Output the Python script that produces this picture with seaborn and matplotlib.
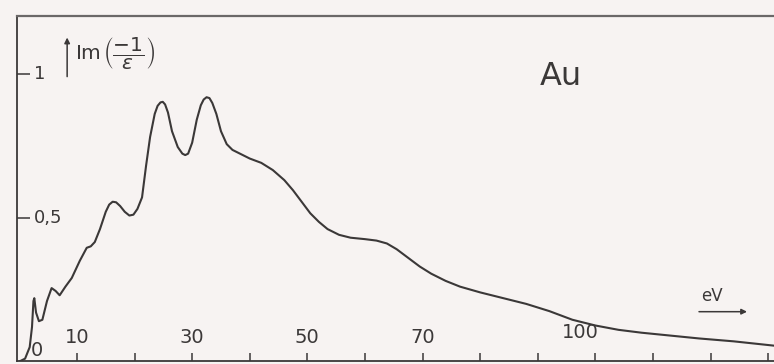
import matplotlib
matplotlib.use("Agg")
import matplotlib.pyplot as plt
import seaborn as sns
import pandas as pd

# Energy loss function of gold, Im(-1/eps) versus energy loss in eV
energy_ev = [0.0, 1.0, 1.8, 2.2, 2.45, 2.6, 2.9, 3.4, 4.0, 4.8, 5.6, 6.3, 7.0,
             8.0, 9.1, 10.5, 11.7, 12.4, 13.1, 14.0, 15.0, 15.6, 16.2, 16.8,
             17.5, 18.3, 19.1, 19.8, 20.5, 21.3, 22.0, 22.7, 23.5, 24.0, 24.5,
             24.9, 25.3, 25.8, 26.5, 27.5, 28.3, 28.8, 29.3, 30.0, 30.8, 31.5,
             32.0, 32.5, 33.0, 33.5, 34.2, 35.0, 36.0, 37.0, 38.5, 40.0, 42.0,
             44.0, 46.0, 47.5, 49.0, 50.5, 52.0, 53.5, 55.5, 57.5, 60.0, 62.0,
             63.8, 65.5, 67.5, 69.5, 71.5, 74.0, 76.5, 80.0, 84.0, 88.0, 92.0,
             96.0, 100.0, 104.0, 108.0, 113.0, 118.0, 124.0, 131.0]
loss_fn = [0.00, 0.01, 0.05, 0.12, 0.21, 0.22, 0.17, 0.14, 0.145, 0.21, 0.255,
           0.245, 0.23, 0.26, 0.29, 0.35, 0.395, 0.40, 0.415, 0.46, 0.52, 0.545,
           0.555, 0.553, 0.54, 0.52, 0.507, 0.51, 0.53, 0.57, 0.68, 0.78, 0.86,
           0.888, 0.90, 0.902, 0.893, 0.865, 0.80, 0.745, 0.722, 0.717, 0.722,
           0.76, 0.84, 0.89, 0.91, 0.918, 0.915, 0.898, 0.86, 0.80, 0.755,
           0.735, 0.72, 0.705, 0.69, 0.665, 0.63, 0.595, 0.555, 0.515, 0.485,
           0.46, 0.44, 0.43, 0.425, 0.42, 0.41, 0.39, 0.36, 0.33, 0.305, 0.28,
           0.26, 0.24, 0.22, 0.20, 0.175, 0.145, 0.125, 0.11, 0.10, 0.09, 0.08,
           0.07, 0.055]

x_ticks = list(range(10, 131, 10))
x_tick_labels = ["0", "10", "30", "50", "70", "100"]
x_label_pos = [3.1, 10, 30, 50, 70, 97.3]
x_label_base = [0.005, 0.052, 0.052, 0.052, 0.052, 0.066]
y_ticks = [0.5, 1.0]
y_tick_labels = ["0,5", "1"]

paper = "#f7f3f2"
ink = "#3b3838"

sns.set_style("white")
plt.rcParams["font.family"] = ["DejaVu Sans"]
plt.rcParams["mathtext.fontset"] = "dejavusans"

fig = plt.figure(figsize=(7.74, 3.64), dpi=100, facecolor=paper)
ax = fig.add_axes([0.022, 0.0069, 0.978, 0.949])
ax.set_facecolor(paper)

df = pd.DataFrame({"E": energy_ev, "loss": loss_fn})
sns.lineplot(data=df, x="E", y="loss", ax=ax, color=ink, linewidth=1.5,
             sort=False)

ax.set_xlim(-0.4, 131)
ax.set_ylim(0.0, 1.2)
ax.set_xlabel("")
ax.set_ylabel("")

for side in ["left", "bottom"]:
    ax.spines[side].set_color(ink)
    ax.spines[side].set_linewidth(1.3)
ax.spines["top"].set_color("#6b6868")
ax.spines["top"].set_linewidth(1.6)
ax.spines["right"].set_visible(False)

ax.set_xticks(x_ticks)
ax.set_yticks(y_ticks)
ax.tick_params(axis="x", bottom=True, direction="in", length=6, width=1.1,
               color=ink, labelbottom=False)
ax.tick_params(axis="y", left=True, direction="in", length=9, width=1.1,
               color=ink, labelleft=False)

for lab, xp, yb in zip(x_tick_labels, x_label_pos, x_label_base):
    ax.text(xp, yb, lab, ha="center", va="bottom", fontsize=14, color=ink)
for lab, yp in zip(y_tick_labels, y_ticks):
    ax.text(2.6, yp, lab, ha="left", va="center", fontsize=13, color=ink)

# Ordinate label with upward arrow
ax.annotate("", xy=(8.3, 1.135), xytext=(8.3, 0.98),
            arrowprops=dict(arrowstyle="-|>", color=ink, lw=1.1,
                            mutation_scale=8))
ax.text(9.7, 1.07, r"Im$\,\left(\dfrac{-1}{\varepsilon}\right)$", ha="left",
        va="center", fontsize=14.5, color=ink)

# Abscissa unit with arrow
ax.text(120.3, 0.195, "eV", ha="center", va="bottom", fontsize=12, color=ink)
ax.annotate("", xy=(126.8, 0.173), xytext=(117.5, 0.173),
            arrowprops=dict(arrowstyle="-|>", color=ink, lw=1.1,
                            mutation_scale=8))

ax.text(90.3, 0.99, "Au", ha="left", va="center", fontsize=23, color=ink)

fig.savefig("out.png", dpi=100, facecolor=paper)
